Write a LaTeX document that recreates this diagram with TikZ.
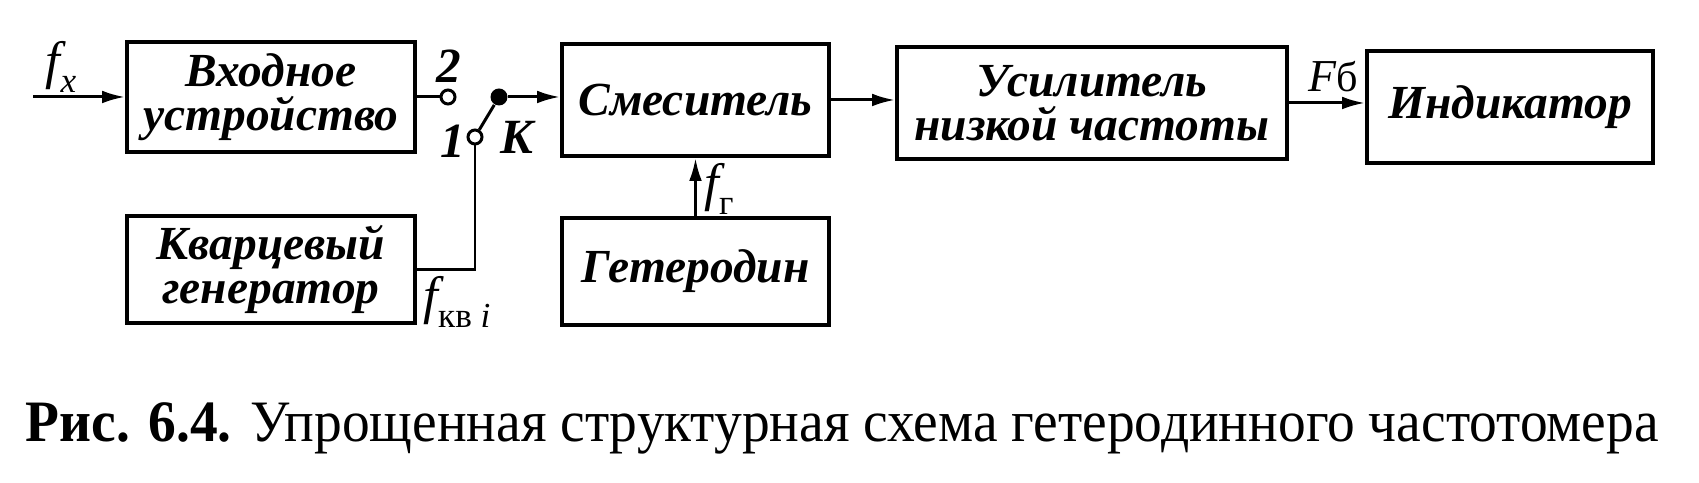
\documentclass[tikz,border=0pt]{standalone}
\usepackage{fontspec}
\setmainfont{Liberation Serif}
\usetikzlibrary{arrows.meta}

\tikzset{
  blok/.style={draw, line width=1.1pt, align=center, inner sep=0pt,
    font=\fontsize{13.5}{12.5}\selectfont\bfseries\itshape},
  sig/.style={-{Latex[length=6.5pt,width=3.6pt]}, line width=0.85pt},
  wire/.style={line width=0.85pt},
  kont/.style={circle, draw, line width=0.85pt, fill=white, inner sep=0pt, minimum size=0.14cm},
  tochka/.style={circle, fill, inner sep=0pt, minimum size=0.17cm},
  metka/.style={font=\fontsize{15}{15}\selectfont\itshape, inner sep=0pt},
  nomer/.style={font=\fontsize{14}{14}\selectfont\bfseries\itshape, inner sep=0pt}
}
\newcommand{\nizh}[1]{\raisebox{-.55ex}{\fontsize{10}{10}\selectfont #1}}

\begin{document}
\begin{tikzpicture}
\useasboundingbox (0,0) rectangle (16.99,4.83);
\newcommand{\blok}[5]{
  \node[blok, minimum width=#3cm, minimum height=#4cm] (#1) at (#2) {#5};
}

% blocks
\blok{vhod}{2.71,3.86}{2.88}{1.10}{Входное\\устройство}
\blok{kvarc}{2.71,2.135}{2.88}{1.07}{Кварцевый\\генератор}
\blok{smes}{6.955,3.83}{2.67}{1.12}{Смеситель}
\blok{geter}{6.955,2.115}{2.67}{1.07}{Гетеродин}
\blok{unch}{10.92,3.80}{3.90}{1.12}{Усилитель\\низкой частоты}
\blok{ind}{15.10,3.76}{2.86}{1.12}{Индикатор}

% switch K
\node[kont] (k2) at (4.48,3.86) {};
\node[kont] (k1) at (4.75,3.46) {};
\node[tochka] (rychag) at (4.99,3.86) {};
\node[nomer] (n2) at (4.49,4.17) {2};
\node[nomer] (n1) at (4.53,3.42) {1};
\node[nomer] (nk) at (5.17,3.46) {K};

%connections
\coordinate (vhod-in) at (0.33,3.86);
\draw[sig] (vhod-in) -- (vhod);
\draw[wire] (vhod) -- (k2);
\draw[wire] (k1) -- (rychag);
\draw[wire] (kvarc.east) -| (k1);
\draw[sig] (rychag) -- (rychag -| smes.west);
\draw[sig] (geter) -- (smes);
\draw[sig] (smes.east) -- (smes.east -| unch.west);
\draw[sig] (unch.east) -- (unch.east -| ind.west);

% signal labels
\node[metka] (fx) at (0.61,4.16) {f\nizh{x}};
\node[metka] (fkv) at (4.57,1.81) {f\nizh{\upshape кв \itshape i}};
\node[metka] (fg) at (7.19,2.94) {f\nizh{\upshape г}};
\node[metka] (fb) at (13.33,4.06) {\fontsize{13}{13}\selectfont F{\upshape\fontsize{12}{12}\selectfont б}};

% caption
\node[anchor=base west, inner sep=0pt, font=\fontsize{16.7}{16.7}\selectfont] (podpis) at (0.25,0.41)
  {\scalebox{0.945}[1]{\textbf{Рис. 6.4.} Упрощенная структурная схема гетеродинного частотомера}};
\end{tikzpicture}
\end{document}
